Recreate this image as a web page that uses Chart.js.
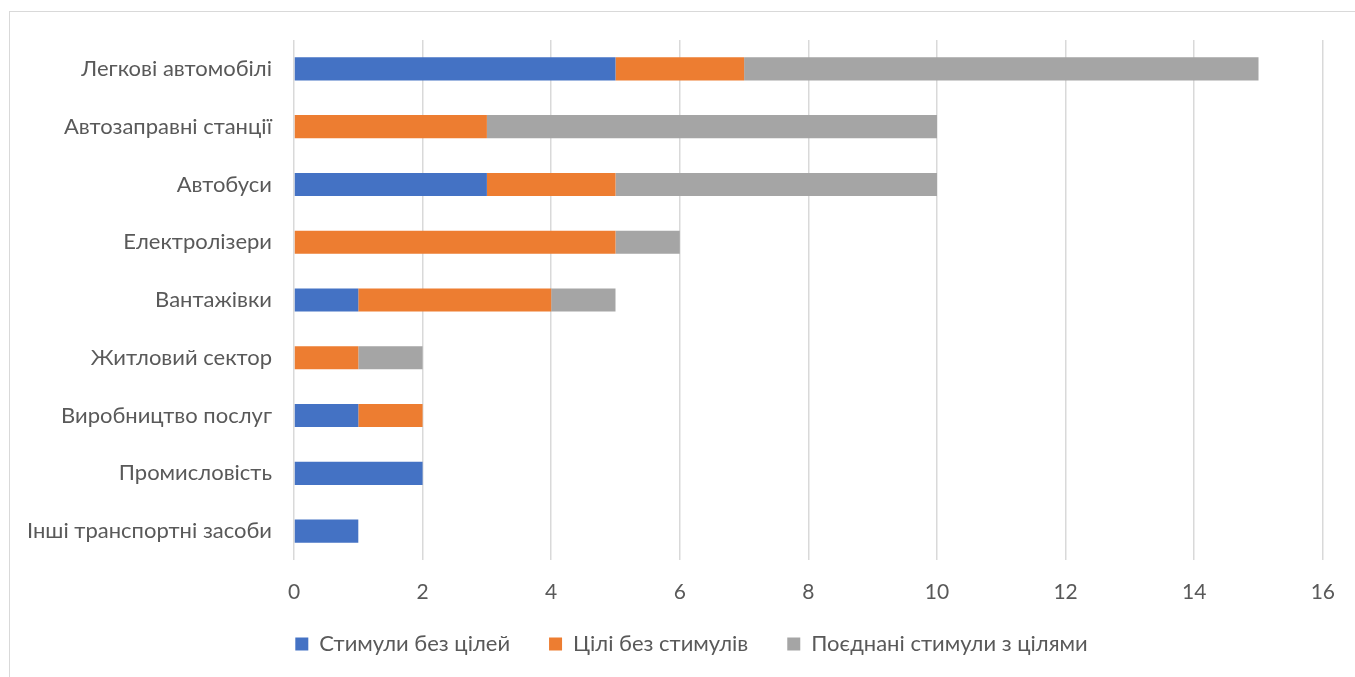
<!DOCTYPE html>
<html>
<head>
<meta charset="utf-8">
<script src="https://cdn.jsdelivr.net/npm/chart.js@4"></script>
<style>
  html, body { margin: 0; padding: 0; background: #fff; overflow: hidden; }
  #wrap { position: relative; width: 1355px; height: 677px; }
  #frame { position: absolute; left: 9px; top: 11px; width: 1400px; height: 700px; border: 1px solid #d9d9d9; }
  #chart-box { position: absolute; left: 0; top: 0; width: 1355px; height: 677px; }
</style>
</head>
<body>
<div id="wrap">
  <div id="frame"></div>
  <div id="chart-box"><canvas id="stim-chart"></canvas></div>
</div>
<script>
// Sectors (top to bottom)
const sectors = ['Легкові автомобілі', 'Автозаправні станції', 'Автобуси', 'Електролізери',
                 'Вантажівки', 'Житловий сектор', 'Виробництво послуг', 'Промисловість',
                 'Інші транспортні засоби'];

// Counts per policy type
const stimNoTargets  = [5, 0, 3, 0, 1, 0, 1, 2, 1];
const targetsNoStim  = [2, 3, 2, 5, 3, 1, 1, 0, 0];
const combined       = [8, 7, 5, 1, 1, 1, 0, 0, 0];

const seriesNames = ['Стимули без цілей', 'Цілі без стимулів', 'Поєднані стимули з цілями'];
const colours = ['#4472C4', '#ED7D31', '#A5A5A5'];

const xMin = 0, xMax = 16, xStep = 2;

const FONT = 'Lato, "Open Sans", sans-serif';
const TEXT = '#595959';

const data = {
  labels: sectors,
  datasets: [stimNoTargets, targetsNoStim, combined].map((vals, i) => ({
    label: seriesNames[i],
    data: vals,
    backgroundColor: colours[i],
    borderWidth: 0,
    categoryPercentage: 1,
    barPercentage: 0.4
  }))
};

// Legend sits a bit tighter under the axis labels and slightly right of centre
const LEGEND_TUCK = 11;
const LEGEND_SHIFT_X = 30;
const legendPlace = {
  id: 'legendPlace',
  afterLayout: function(chart) {
    const lg = chart.legend;
    if (!lg) return;
    lg.left += LEGEND_SHIFT_X;
    lg.right += LEGEND_SHIFT_X;
    lg.top -= LEGEND_TUCK;
    lg.bottom -= LEGEND_TUCK;
  }
};

var ctx = document.getElementById('stim-chart').getContext('2d');
var stimChart = new Chart(ctx, {
  type: 'bar',
  data: data,
  plugins: [legendPlace],
  options: {
    indexAxis: 'y',
    responsive: true,
    maintainAspectRatio: false,
    animation: false,
    layout: {
      padding: { left: 0, right: 32, top: 40, bottom: 1 }
    },
    scales: {
      x: {
        stacked: true,
        min: xMin,
        max: xMax,
        afterFit: function(scale) { scale.height = 45; },
        ticks: {
          stepSize: xStep,
          color: TEXT,
          padding: 20,
          font: { family: FONT, size: 21 }
        },
        grid: {
          color: '#d9d9d9',
          lineWidth: 1.5,
          drawTicks: false
        },
        border: { display: false }
      },
      y: {
        stacked: true,
        afterFit: function(scale) { scale.width = 294; },
        ticks: {
          color: TEXT,
          padding: 14,
          font: { family: FONT, size: 22 }
        },
        grid: { display: false },
        border: { display: false }
      }
    },
    plugins: {
      tooltip: { enabled: false },
      legend: {
        position: 'bottom',
        labels: {
          color: TEXT,
          boxWidth: 13,
          boxHeight: 13,
          padding: 39,
          font: { family: FONT, size: 22 }
        }
      }
    }
  }
});
</script>
</body>
</html>
